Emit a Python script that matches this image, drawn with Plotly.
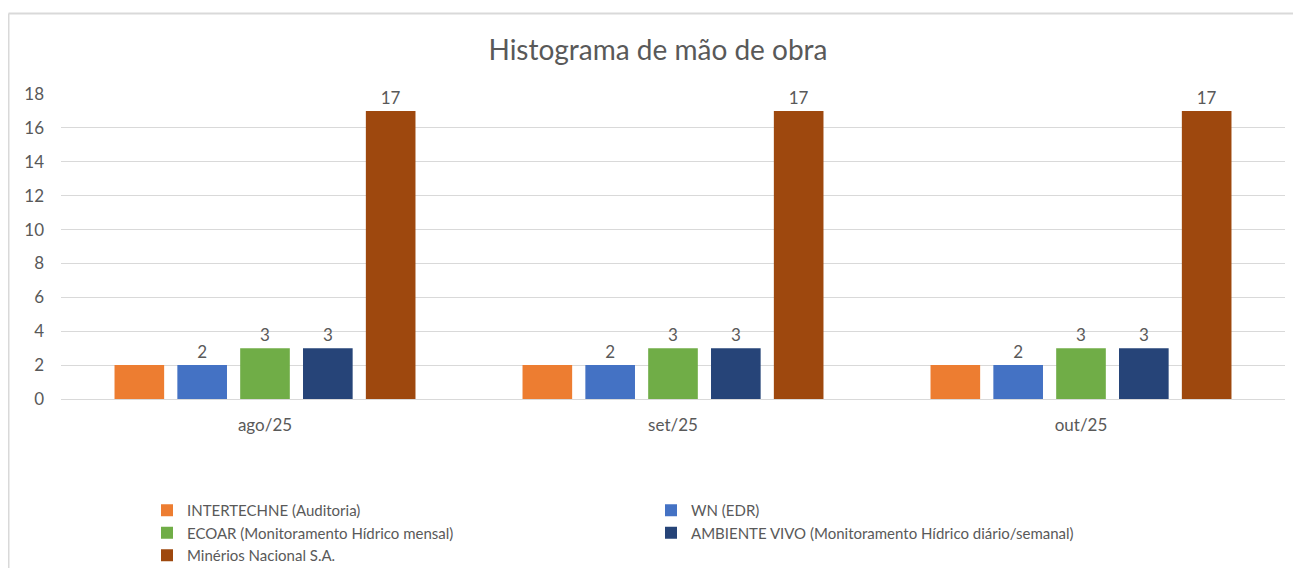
import plotly.graph_objects as go

categories = ["ago/25", "set/25", "out/25"]
series_names = [
    "INTERTECHNE (Auditoria)",
    "WN (EDR)",
    "ECOAR (Monitoramento Hídrico mensal)",
    "AMBIENTE VIVO (Monitoramento Hídrico diário/semanal)",
    "Minérios Nacional S.A.",
]
intertechne = [2, 2, 2]
wn = [2, 2, 2]
ecoar = [3, 3, 3]
ambiente_vivo = [3, 3, 3]
minerios = [17, 17, 17]
show_labels = [False, True, True, True, True]
colors = ["#ED7D31", "#4472C4", "#70AD47", "#264478", "#9E480E"]

values = [intertechne, wn, ecoar, ambiente_vivo, minerios]
FONT = "Lato"
GRAY = "#595959"

fig = go.Figure()
for name, vals, col, lab in zip(series_names, values, colors, show_labels):
    fig.add_trace(go.Bar(
        x=categories, y=vals, name=name,
        marker=dict(color=col, line=dict(width=0)),
        text=vals if lab else None,
        textposition="outside" if lab else "none",
        textfont=dict(color=GRAY, size=17, family=FONT),
        cliponaxis=False,
    ))

# page offset (body margin) compensation
OFF = 8
W, H = 1301 - OFF, 568 - OFF
L, R, T, B = 61 - OFF, 16, 94 - OFF, 169
pw, ph = W - L - R, H - T - B

def px_x(p):
    return (p - OFF - L) / pw

def px_y(p):
    return (H - B - (p - OFF)) / ph

fig.update_layout(
    width=W, height=H,
    margin=dict(l=L, r=R, t=T, b=B),
    paper_bgcolor="white", plot_bgcolor="white",
    barmode="group", bargap=0.23, bargroupgap=0.21,
    title=dict(text="Histograma de mão de obra", x=px_x(658), xanchor="center",
               xref="paper", y=1 - (50 - OFF) / H, yanchor="middle",
               font=dict(family=FONT, size=28, color=GRAY)),
    font=dict(family=FONT, color=GRAY, size=15),
    xaxis=dict(showgrid=False, showline=False, zeroline=False,
               tickfont=dict(size=17, color=GRAY, family=FONT),
               ticklabelstandoff=14),
    yaxis=dict(range=[0, 18], dtick=2, showgrid=True, gridcolor="#D9D9D9",
               gridwidth=1, zeroline=True, zerolinecolor="#D9D9D9",
               zerolinewidth=1, showline=False,
               tickfont=dict(size=17, color=GRAY, family=FONT),
               ticklabelstandoff=16),
    legend=dict(orientation="h", xref="container", yref="container",
                x=(147 - OFF) / W, y=1 - (494 - OFF) / H,
                xanchor="left", yanchor="top",
                entrywidth=459, entrywidthmode="pixels",
                font=dict(size=15, color=GRAY, family=FONT),
                traceorder="normal", itemclick=False),
    showlegend=True,
    shapes=[
        dict(type="line", xref="paper", yref="paper",
             x0=px_x(8.5), x1=px_x(1301), y0=px_y(13.5), y1=px_y(13.5),
             line=dict(color="#D9D9D9", width=2)),
        dict(type="line", xref="paper", yref="paper",
             x0=px_x(8.5), x1=px_x(8.5), y0=px_y(13.5), y1=px_y(568),
             line=dict(color="#D9D9D9", width=2)),
    ],
)

fig.write_html("out.html")
